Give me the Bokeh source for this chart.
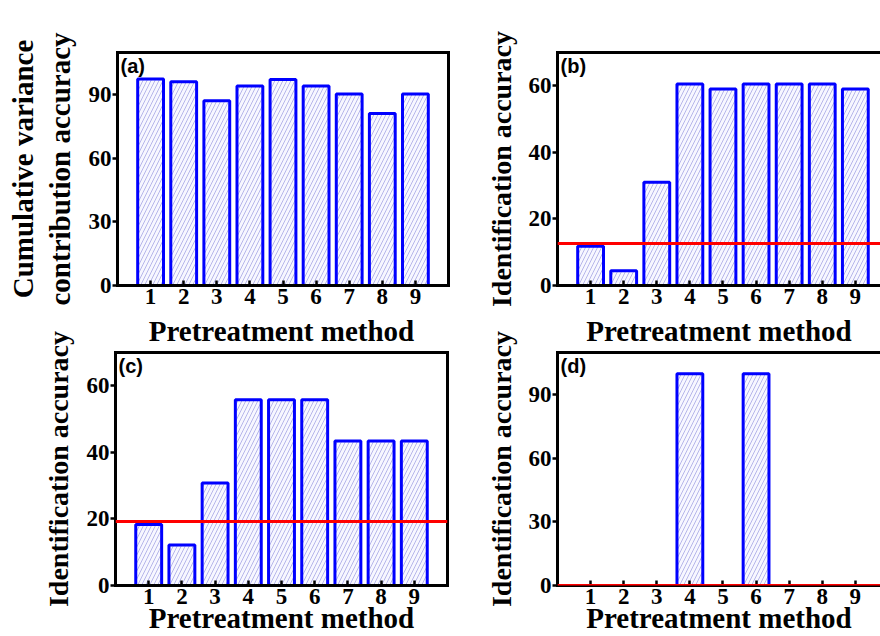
from bokeh.plotting import figure
from bokeh.layouts import column, row
from bokeh.models import Range1d, FixedTicker, LinearAxis, Span, Label, ColumnDataSource
from bokeh.embed import file_html
from bokeh.resources import INLINE

# ---- data ----
methods = [1, 2, 3, 4, 5, 6, 7, 8, 9]
method_labels = ["1", "2", "3", "4", "5", "6", "7", "8", "9"]
cum_variance = [97.5, 96.2, 87.2, 94.2, 97.2, 94.2, 90.4, 81.2, 90.4]
acc_b = [11.8, 4.4, 31.0, 60.5, 59.0, 60.5, 60.5, 60.5, 59.0]
acc_c = [18.3, 12.2, 30.8, 55.8, 55.8, 55.8, 43.4, 43.4, 43.4]
acc_d = [0, 0, 0, 100, 0, 100, 0, 0, 0]
threshold_b = 12.6
threshold_c = 19.2
threshold_d = 0.0
yticks_a = [0, 30, 60, 90]
yticks_b = [0, 20, 40, 60]
yticks_c = [0, 20, 40, 60]
yticks_d = [0, 30, 60, 90]
xlabel_text = "Pretreatment method"
ylabel_a = "Cumulative variance\ncontribution accuracy"
ylabel_bcd = "Identification accuracy"

SERIF = "Liberation Serif"
SANS = "Liberation Sans"
FRAME_H = 233


def style_xlabel(ax, label, standoff):
    ax.axis_label = label
    ax.axis_label_text_font = SERIF
    ax.axis_label_text_font_style = "bold"
    ax.axis_label_text_font_size = "29px"
    ax.axis_label_text_color = "black"
    ax.axis_label_standoff = standoff


def border_axis(label=None, standoff=0):
    ax = LinearAxis(ticker=FixedTicker(ticks=[]), major_tick_line_color=None,
                    minor_tick_line_color=None, axis_line_width=3,
                    axis_line_cap="square", major_label_standoff=0)
    if label:
        style_xlabel(ax, label, standoff)
    return ax


def make_panel(values, ymax, yticks, ylabel, ylabel_size, ylabel_standoff,
               tag, threshold, width, height, left, right, top, bottom, xmax,
               right_border, top_label=None, bottom_label=None):
    p = figure(width=width, height=height, x_range=Range1d(0, xmax),
               y_range=Range1d(0, ymax), output_backend="svg",
               toolbar_location=None, min_border_left=left,
               min_border_right=right, min_border_top=top,
               min_border_bottom=bottom)
    p.outline_line_color = None
    p.grid.visible = False
    p.background_fill_color = "white"
    p.border_fill_color = "white"

    src = ColumnDataSource(dict(x=methods, top=values))
    p.vbar(x="x", top="top", width=0.78, source=src,
           fill_color="#f7f7ff", line_color="#0000ff", line_width=3,
           hatch_pattern="/", hatch_color="#b6b6ea", hatch_scale=8,
           hatch_weight=1)
    if threshold is not None:
        p.add_layout(Span(location=threshold, dimension="width",
                          line_color="#ff0000", line_width=3))

    xa = p.xaxis[0]
    xa.ticker = FixedTicker(ticks=methods)
    xa.major_label_overrides = {m: s for m, s in zip(methods, method_labels)}
    xa.major_tick_in = 5
    xa.major_tick_out = 0
    xa.minor_tick_line_color = None
    xa.major_tick_line_width = 2.5
    xa.axis_line_width = 3
    xa.axis_line_cap = "square"
    xa.major_label_standoff = 3
    xa.major_label_text_font = SERIF
    xa.major_label_text_font_style = "bold"
    xa.major_label_text_font_size = "23px"
    xa.major_label_text_color = "black"
    if bottom_label:
        style_xlabel(xa, bottom_label, -5)

    ya = p.yaxis[0]
    ya.ticker = FixedTicker(ticks=yticks)
    ya.major_tick_in = 0
    ya.major_tick_out = 5
    ya.minor_tick_line_color = None
    ya.major_tick_line_width = 2.5
    ya.axis_line_width = 3
    ya.axis_line_cap = "square"
    ya.major_label_standoff = 1
    ya.major_label_text_font = SERIF
    ya.major_label_text_font_style = "bold"
    ya.major_label_text_font_size = "23px"
    ya.major_label_text_color = "black"
    ya.axis_label = ylabel
    ya.axis_label_text_font = SERIF
    ya.axis_label_text_font_style = "bold"
    ya.axis_label_text_font_size = ylabel_size
    ya.axis_label_text_color = "black"
    ya.axis_label_standoff = ylabel_standoff
    ya.axis_label_text_line_height = 1.15

    p.add_layout(border_axis(top_label, 6), "above")
    if right_border:
        p.add_layout(border_axis(), "right")

    p.add_layout(Label(x=3, y=FRAME_H - 2, x_units="screen", y_units="screen",
                       text=tag, text_font=SANS, text_font_style="bold",
                       text_font_size="20px", text_baseline="top",
                       text_color="black"))
    return p


H1 = 310
H2 = 636 - H1
T2 = 352 - H1

pa = make_panel(cum_variance, 110, yticks_a, ylabel_a, "29px", 10, "(a)", None,
                470, H1, 117, 22, 52, H1 - 285, 10, True)
pb = make_panel(acc_b, 70, yticks_b, ylabel_bcd, "28px", 9, "(b)", threshold_b,
                410, H1, 87, 0, 52, H1 - 285, 9.76, False)
pc = make_panel(acc_c, 70, yticks_c, ylabel_bcd, "28px", 10, "(c)", threshold_c,
                470, H2, 115, 23, T2, 51, 10, True,
                top_label=xlabel_text, bottom_label=xlabel_text)
pd = make_panel(acc_d, 110, yticks_d, ylabel_bcd, "28px", 9, "(d)", threshold_d,
                410, H2, 87, 0, T2, 51, 9.76, False,
                top_label=xlabel_text, bottom_label=xlabel_text)

layout = column(row(pa, pb), row(pc, pd))
open("out.html", "w").write(file_html(layout, INLINE))
